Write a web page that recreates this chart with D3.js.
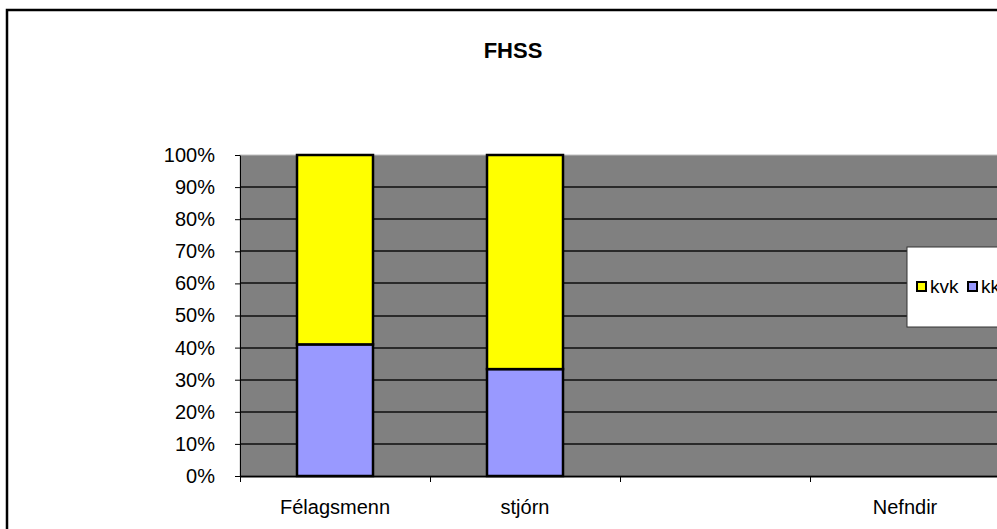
<!DOCTYPE html>
<html>
<head>
<meta charset="utf-8">
<script src="https://cdn.jsdelivr.net/npm/d3@7"></script>
<style>
  body { margin: 0; background: #fff; }
  svg { display: block; font-family: "Liberation Sans", Arial, sans-serif; }
</style>
</head>
<body>
<svg id="chart" width="997" height="529"></svg>
<script>
// data
var categories = ["Félagsmenn", "stjórn", "", "Nefndir"];
var seriesNames = ["kk", "kvk"];           // stacking order, bottom first
var kk  = [0.41, 0.333, 0, 0];
var kvk = [0.59, 0.667, 0, 0];
var yTicks = [0, 0.1, 0.2, 0.3, 0.4, 0.5, 0.6, 0.7, 0.8, 0.9, 1];
var legendOrder = ["kvk", "kk"];

var colors = { kk: "#9999FF", kvk: "#FFFF00" };

var svg = d3.select("#chart");

// outer chart border
svg.append("rect")
    .attr("x", 7).attr("y", 10)
    .attr("width", 1100).attr("height", 600)
    .style("fill", "#fff")
    .style("stroke", "#000")
    .style("stroke-width", 2.5);

// title
svg.append("text")
    .attr("x", 513).attr("y", 58)
    .attr("text-anchor", "middle")
    .style("font-size", "22px")
    .style("font-weight", "bold")
    .text("FHSS");

var x = d3.scaleBand().domain(categories).range([240, 1000]).paddingInner(0).paddingOuter(0);
var y = d3.scaleLinear().domain([0, 1]).range([476, 155]);

// plot background
svg.append("rect")
    .attr("x", 240).attr("y", 155)
    .attr("width", 760).attr("height", 476 - 155)
    .style("fill", "#808080")
    .style("stroke", "#c0c0c0")
    .style("stroke-width", 1);

// gridlines
svg.append("g").selectAll("line")
    .data(yTicks.filter(function(d){ return d > 0 && d < 1; }))
    .enter().append("line")
    .attr("x1", 240).attr("x2", 1000)
    .attr("y1", function(d){ return Math.round(y(d)); })
    .attr("y2", function(d){ return Math.round(y(d)); })
    .style("stroke", "#2a2a2a")
    .style("stroke-width", 2);

// stacked bars
var table = categories.map(function(c, i){ return { cat: c, kk: kk[i], kvk: kvk[i] }; });
var stack = d3.stack().keys(seriesNames)(table);
var barW = 76;
svg.append("g").selectAll("g")
    .data(stack)
    .enter().append("g")
    .style("fill", function(s){ return colors[s.key]; })
    .selectAll("rect")
    .data(function(s){ return s.filter(function(d){ return d[1] - d[0] > 0; }); })
    .enter().append("rect")
    .attr("x", function(d){ return x(d.data.cat) + x.bandwidth() / 2 - barW / 2; })
    .attr("y", function(d){ return y(d[1]); })
    .attr("width", barW)
    .attr("height", function(d){ return y(d[0]) - y(d[1]); })
    .style("stroke", "#000")
    .style("stroke-width", 2.5);

// y axis
var yAxis = d3.axisLeft(y).tickValues(yTicks).tickFormat(d3.format(".0%")).tickSize(5).tickSizeOuter(0);
var gy = svg.append("g").attr("transform", "translate(240,0)").call(yAxis);
gy.select(".domain").style("stroke", "#000");
gy.selectAll(".tick line").style("stroke", "#000");
gy.selectAll("text")
    .attr("x", -25)
    .style("font-size", "20px")
    .style("font-family", "Liberation Sans, Arial, sans-serif")
    .style("fill", "#000");

// x axis
var xAxis = d3.axisBottom(x).tickSize(0).tickSizeOuter(0);
var gx = svg.append("g").attr("transform", "translate(0,476)").call(xAxis);
gx.select(".domain").style("stroke", "#000").style("stroke-width", 2);
gx.selectAll("text")
    .attr("y", 24)
    .style("font-size", "20px")
    .style("font-family", "Liberation Sans, Arial, sans-serif")
    .style("fill", "#000");
// category separator ticks
svg.append("g").selectAll("line")
    .data(categories)
    .enter().append("line")
    .attr("x1", function(d){ return x(d) + 0.5; })
    .attr("x2", function(d){ return x(d) + 0.5; })
    .attr("y1", 476).attr("y2", 482)
    .style("stroke", "#000");

// legend
var leg = svg.append("g").attr("transform", "translate(907,247)");
leg.append("rect")
    .attr("width", 120).attr("height", 80)
    .style("fill", "#fff")
    .style("stroke", "#333")
    .style("stroke-width", 1);
var items = leg.selectAll("g.item")
    .data(legendOrder)
    .enter().append("g")
    .attr("class", "item")
    .attr("transform", function(d, i){ return "translate(" + (10 + i * 51) + ",35)"; });
items.append("rect")
    .attr("width", 9).attr("height", 9)
    .style("fill", function(d){ return colors[d]; })
    .style("stroke", "#000")
    .style("stroke-width", 2);
items.append("text")
    .attr("x", 13).attr("y", 11)
    .style("font-size", "19px")
    .text(function(d){ return d; });
</script>
</body>
</html>
